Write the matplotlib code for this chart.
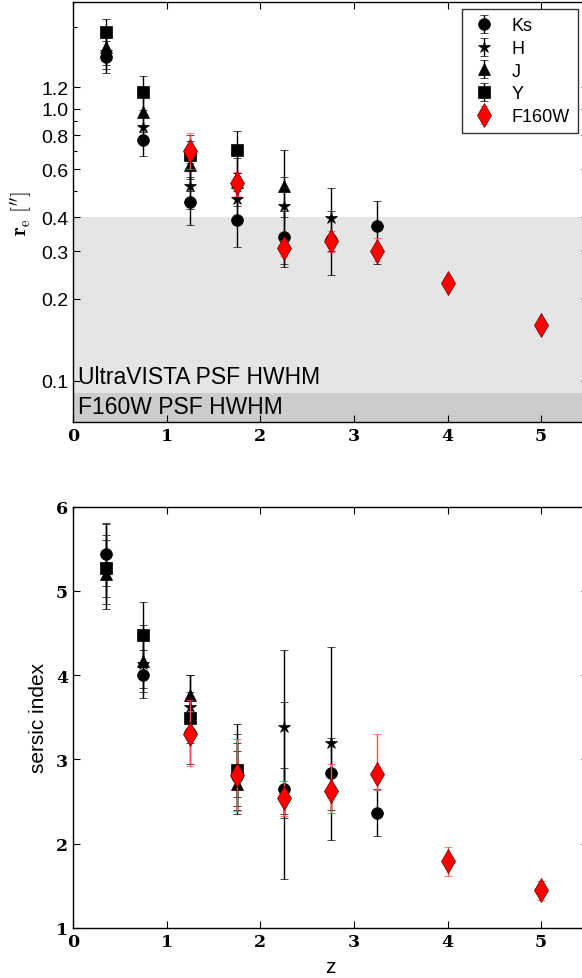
import matplotlib
matplotlib.use("Agg")
import matplotlib.pyplot as plt
from matplotlib.ticker import FixedLocator, FixedFormatter, NullFormatter
import numpy as np

plt.rcParams['mathtext.fontset'] = 'cm'
plt.rcParams['font.family'] = ['Liberation Sans', 'DejaVu Sans']

# redshift bins
z_Ks = [0.35, 0.75, 1.25, 1.75, 2.25, 2.75, 3.25]
z_H = [0.35, 0.75, 1.25, 1.75, 2.25, 2.75]
z_J = [0.35, 0.75, 1.25, 1.75, 2.25]
z_Y = [0.35, 0.75, 1.25, 1.75]
z_F160W = [1.25, 1.75, 2.25, 2.75, 3.25, 4.0, 5.0]

# effective radius [arcsec]: value, lower bound, upper bound
re_Ks = [1.55, 0.765, 0.454, 0.390, 0.337, 0.330, 0.372]
re_Ks_lo = [1.36, 0.673, 0.375, 0.310, 0.270, 0.244, 0.269]
re_Ks_hi = [1.78, 0.87, 0.56, 0.50, 0.42, 0.42, 0.46]
re_H = [1.62, 0.857, 0.522, 0.467, 0.439, 0.396]
re_H_lo = [1.40, 0.74, 0.43, 0.38, 0.262, 0.30]
re_H_hi = [1.88, 0.99, 0.63, 0.58, 0.56, 0.512]
re_J = [1.69, 0.97, 0.619, 0.54, 0.522]
re_J_lo = [1.45, 0.82, 0.50, 0.44, 0.40]
re_J_hi = [1.97, 1.14, 0.76, 0.66, 0.703]
re_Y = [1.914, 1.15, 0.678, 0.703]
re_Y_lo = [1.60, 0.95, 0.55, 0.58]
re_Y_hi = [2.14, 1.32, 0.80, 0.828]
re_F160W = [0.697, 0.533, 0.308, 0.326, 0.301, 0.229, 0.160]
re_F160W_lo = [0.60, 0.48, 0.288, 0.297, 0.275, 0.22, 0.154]
re_F160W_hi = [0.816, 0.588, 0.33, 0.355, 0.335, 0.24, 0.167]

# Sersic index: value, lower bound, upper bound
n_Ks = [5.44, 4.00, 3.32, 2.80, 2.65, 2.84, 2.36]
n_Ks_lo = [4.79, 3.73, 2.95, 2.40, 2.35, 2.40, 2.09]
n_Ks_hi = [5.81, 4.30, 3.70, 3.20, 2.90, 3.25, 2.65]
n_H = [5.30, 4.13, 3.62, 2.80, 3.39, 3.20]
n_H_lo = [4.93, 3.80, 3.30, 2.45, 1.58, 2.05]
n_H_hi = [5.67, 4.60, 4.00, 3.30, 4.30, 4.34]
n_J = [5.20, 4.17, 3.76, 2.71, 2.60]
n_J_lo = [4.85, 3.85, 3.50, 2.35, 2.30]
n_J_hi = [5.60, 4.50, 4.00, 3.10, 3.68]
n_Y = [5.27, 4.48, 3.49, 2.88]
n_Y_lo = [5.06, 4.10, 3.20, 2.55]
n_Y_hi = [5.80, 4.87, 3.80, 3.42]
n_F160W = [3.30, 2.81, 2.54, 2.63, 2.83, 1.79, 1.45]
n_F160W_lo = [2.92, 2.39, 2.33, 2.36, 2.64, 1.62, 1.33]
n_F160W_hi = [3.70, 3.24, 2.75, 2.95, 3.30, 1.96, 1.56]

# PSF half widths [arcsec]
hwhm_ultravista = 0.4
hwhm_f160w = 0.09

re_ticks = [0.1, 0.2, 0.3, 0.4, 0.6, 0.8, 1.0, 1.2]
re_ticklabels = ['0.1', '0.2', '0.3', '0.4', '0.6', '0.8', '1.0', '1.2']
re_minor = [0.5, 0.7, 0.9, 2.0]
z_ticks = [0, 1, 2, 3, 4, 5]
n_ticks = [1, 2, 3, 4, 5, 6]

bands = [
    ('Ks', 'o', 8.5, 'k', 'k'),
    ('H', '*', 9, 'k', 'k'),
    ('J', '^', 8.5, 'k', 'k'),
    ('Y', 's', 8, 'k', 'k'),
    ('F160W', 'd', 12, 'red', '#ff5050'),
]

top_data = {
    'Ks': (z_Ks, re_Ks, re_Ks_lo, re_Ks_hi),
    'H': (z_H, re_H, re_H_lo, re_H_hi),
    'J': (z_J, re_J, re_J_lo, re_J_hi),
    'Y': (z_Y, re_Y, re_Y_lo, re_Y_hi),
    'F160W': (z_F160W, re_F160W, re_F160W_lo, re_F160W_hi),
}
bot_data = {
    'Ks': (z_Ks, n_Ks, n_Ks_lo, n_Ks_hi),
    'H': (z_H, n_H, n_H_lo, n_H_hi),
    'J': (z_J, n_J, n_J_lo, n_J_hi),
    'Y': (z_Y, n_Y, n_Y_lo, n_Y_hi),
    'F160W': (z_F160W, n_F160W, n_F160W_lo, n_F160W_hi),
}

serif_bold = dict(family='DejaVu Serif', weight='bold', size=12.5)

fig = plt.figure(figsize=(5.82, 9.79), dpi=100)
W, H = 582.0, 979.0
left = 73 / W
width = (588 - 73) / W
ax1 = fig.add_axes([left, 1 - 423 / H, width, (423 - 3) / H])
ax2 = fig.add_axes([left, 1 - 929 / H, width, (929 - 507.7) / H])


def draw(ax, data):
    handles = []
    for i, (name, mk, ms, fc, ec) in enumerate(bands):
        zz, v, lo, hi = data[name]
        v = np.array(v)
        yerr = [v - np.array(lo), np.array(hi) - v]
        h = ax.errorbar(zz, v, yerr=yerr, fmt=mk, ms=ms, mfc=fc,
                        mec='k' if name != 'F160W' else '#600000',
                        mew=0.5, ecolor=ec, elinewidth=1.0, capsize=3,
                        capthick=1.0, label=name, zorder=3 + i)
        handles.append(h)
    return handles


# top: effective radius
ax1.set_yscale('log')
ax1.axhspan(0.01, hwhm_ultravista, color='#e5e5e5', zorder=0, lw=0)
ax1.axhspan(0.01, hwhm_f160w, color='#cccccc', zorder=1, lw=0)
handles = draw(ax1, top_data)
ax1.set_xlim(0, 5.5)
ax1.set_ylim(0.0706, 2.47)
ax1.yaxis.set_major_locator(FixedLocator(re_ticks))
ax1.yaxis.set_major_formatter(FixedFormatter(re_ticklabels))
ax1.yaxis.set_minor_locator(FixedLocator(re_minor))
ax1.yaxis.set_minor_formatter(NullFormatter())
ax1.text(0.05, 0.1035, 'UltraVISTA PSF HWHM', fontsize=16.5, va='center', zorder=2)
ax1.text(0.05, 0.0805, 'F160W PSF HWHM', fontsize=16.5, va='center', zorder=2)
ax1.set_ylabel(r'$\mathbf{r}_{\mathrm{e}}\ [^{\prime\prime}]$', fontsize=15, labelpad=4)
leg = ax1.legend(handles=handles, loc='upper right',
                 bbox_to_anchor=(578 / W, 1 - 10 / H), bbox_transform=fig.transFigure,
                 borderaxespad=0, fontsize=13, frameon=True, fancybox=False,
                 numpoints=1, handletextpad=0.8, borderpad=0.45,
                 labelspacing=0.32, handlelength=1.5)
leg.get_frame().set_edgecolor('k')
leg.get_frame().set_linewidth(1.0)

# bottom: Sersic index
draw(ax2, bot_data)
ax2.set_xlim(0, 5.5)
ax2.set_ylim(1, 6)
ax2.set_yticks(n_ticks)
ax2.set_yticklabels([str(t) for t in n_ticks], fontdict=serif_bold)
ax2.set_ylabel('sersic index', fontsize=15, labelpad=6)
ax2.set_xlabel('z', fontsize=15, labelpad=5)

for ax in (ax1, ax2):
    ax.set_xticks(z_ticks)
    ax.set_xticklabels([str(t) for t in z_ticks], fontdict=serif_bold)
    ax.tick_params(which='both', direction='in', top=True, right=True)
    ax.tick_params(which='major', length=5, width=0.8)
    ax.tick_params(which='minor', length=3, width=0.8)
    for s in ax.spines.values():
        s.set_linewidth(1.0)
ax1.tick_params(axis='y', which='major', labelsize=14)

fig.savefig('out.png', dpi=100)
